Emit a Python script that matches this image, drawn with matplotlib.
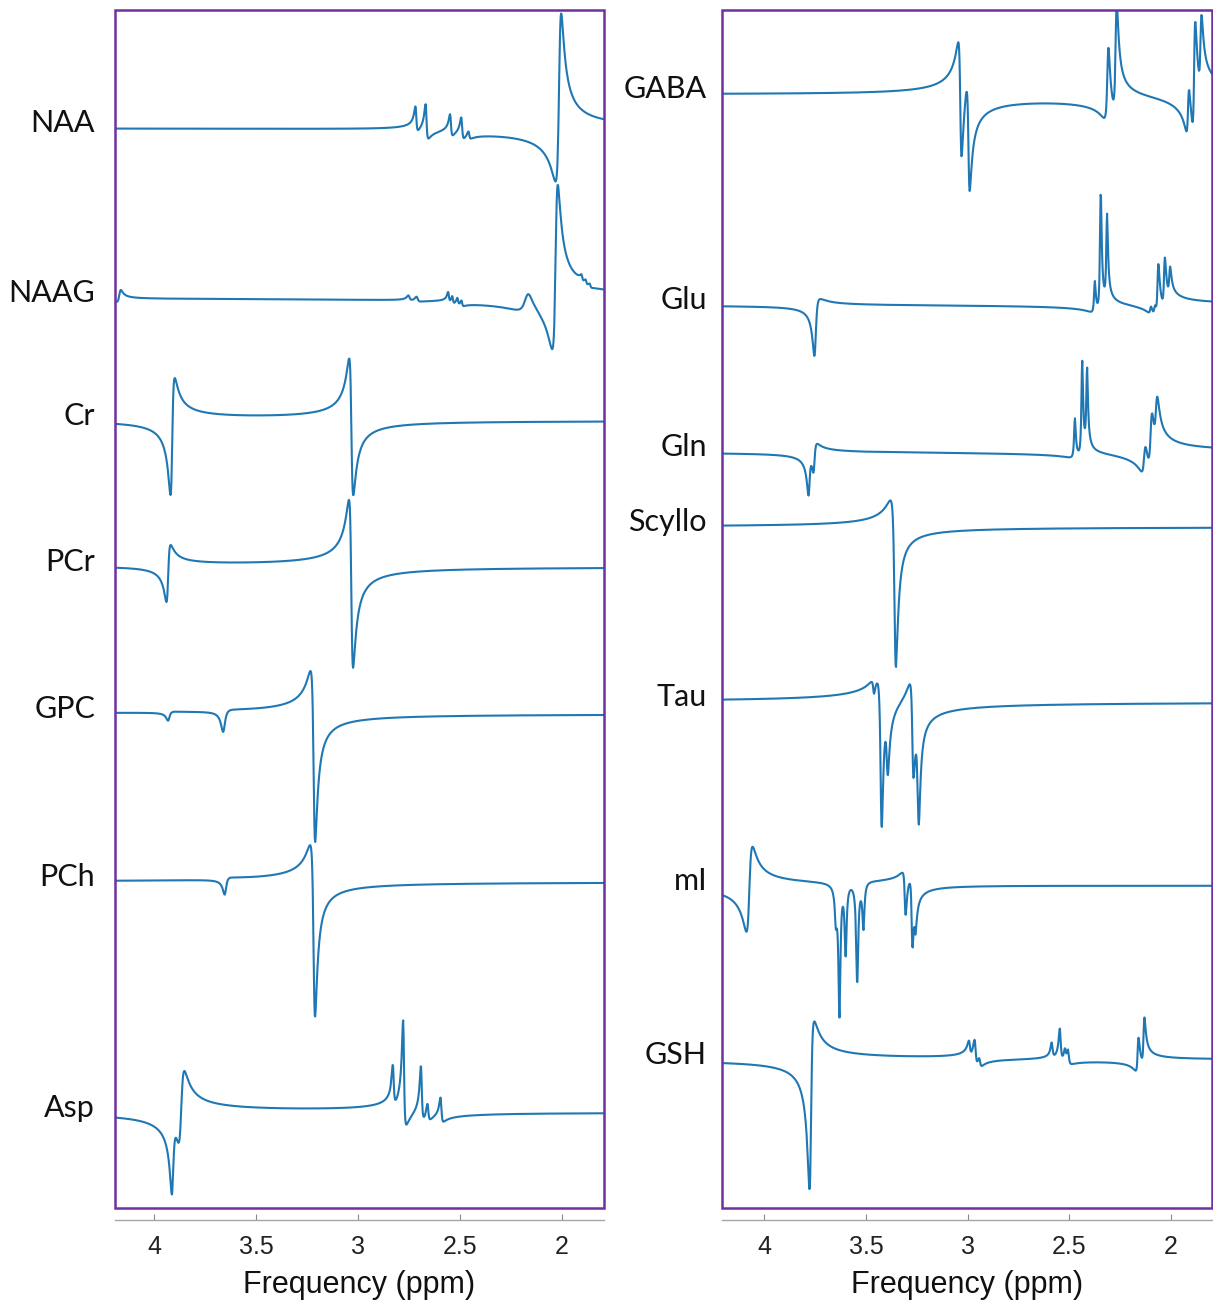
import numpy as np
import matplotlib.pyplot as plt
import matplotlib.transforms as mtransforms
from matplotlib.patches import Rectangle

# peak lists: (centre ppm, amplitude, phase in degrees, half width ppm)
NAA = [(2.011, 168, 68, 0.013),
       (2.715, 25, -55, 0.006), (2.665, 35, -55, 0.006),
       (2.545, 22, -55, 0.006), (2.490, 22, -55, 0.006), (2.455, 8, -55, 0.006)]
NAAG = [(2.028, 165, 70, 0.013), (2.170, 20, 35, 0.025),
        (2.750, 5, -40, 0.008), (2.710, 5, -40, 0.008),
        (2.555, 10, -50, 0.005), (2.535, 8, -50, 0.005), (2.510, 7, -50, 0.005), (2.490, 6, -50, 0.005),
        (1.900, 6, -60, 0.006), (1.880, 5, -60, 0.006), (1.860, 4, -60, 0.006),
        (4.170, 12, 60, 0.010)]
CR = [(3.913, 117, 107, 0.010), (3.032, 137, -96, 0.010)]
PCR = [(3.933, 57, 107, 0.010), (3.032, 168, -102, 0.010)]
GPC = [(3.216, 171, -120, 0.010), (3.660, 22, 160, 0.012), (3.930, 9, 150, 0.010)]
PCH = [(3.216, 172, -125, 0.010), (3.652, 17, 150, 0.010)]
ASP = [(3.910, 70, 135, 0.010), (3.868, 75, 95, 0.015),
       (2.827, 40, -40, 0.006), (2.776, 106, -45, 0.006), (2.689, 55, -40, 0.006),
       (2.657, 18, -40, 0.006), (2.592, 25, -50, 0.006)]

GABA = [(3.035, 120, -110, 0.008), (2.995, 110, -110, 0.008),
        (2.310, 75, 40, 0.008), (2.270, 105, 50, 0.008),
        (1.915, 50, 70, 0.007), (1.885, 110, 70, 0.007), (1.853, 70, 60, 0.007)]
GLU = [(3.750, 57, 140, 0.010),
       (2.375, 32, 20, 0.005), (2.346, 119, 20, 0.005), (2.315, 86, 20, 0.005),
       (2.100, 8, 45, 0.006), (2.080, 10, 45, 0.006), (2.064, 50, 45, 0.006),
       (2.032, 48, 45, 0.006), (2.006, 28, 45, 0.006)]
GLN = [(3.780, 40, 140, 0.008), (3.755, 30, 130, 0.008),
       (2.473, 40, 15, 0.005), (2.437, 95, 15, 0.005), (2.413, 80, 15, 0.005),
       (2.130, 30, 60, 0.010), (2.098, 55, 60, 0.010), (2.072, 45, 60, 0.010)]
SCYLLO = [(3.357, 167, -133, 0.010)]
TAU = [(3.462, 15, -140, 0.006), (3.425, 150, -145, 0.008), (3.395, 60, -140, 0.008),
       (3.270, 95, -125, 0.008), (3.242, 100, -150, 0.008)]
MI = [(4.074, 85, 95, 0.015),
      (3.648, 30, 180, 0.006), (3.630, 130, 175, 0.006), (3.600, 70, 180, 0.006),
      (3.543, 100, 180, 0.006), (3.512, 45, 175, 0.006),
      (3.307, 45, -140, 0.006), (3.273, 70, -140, 0.006), (3.258, 30, -140, 0.006)]
GSH = [(3.772, 168, 123, 0.010),
       (2.990, 15, -60, 0.007), (2.962, 25, -60, 0.007), (2.940, 10, -60, 0.007),
       (2.585, 15, -30, 0.006), (2.545, 32, -30, 0.006), (2.520, 12, -30, 0.006), (2.505, 15, -30, 0.006),
       (2.162, 35, 50, 0.006), (2.133, 45, 50, 0.006)]

LEFT_NAMES = ['NAA', 'NAAG', 'Cr', 'PCr', 'GPC', 'PCh', 'Asp']
LEFT_PEAKS = [NAA, NAAG, CR, PCR, GPC, PCH, ASP]
LEFT_BASE = [1092, 922, 799, 653, 506, 338, 107]

RIGHT_NAMES = ['GABA', 'Glu', 'Gln', 'Scyllo', 'Tau', 'mI', 'GSH']
RIGHT_PEAKS = [GABA, GLU, GLN, SCYLLO, TAU, MI, GSH]
RIGHT_BASE = [1126, 915, 768, 693, 518, 334, 160]

TICKS = [4, 3.5, 3, 2.5, 2]
TICK_LABELS = ['4', '3.5', '3', '2.5', '2']


def spectrum(ppm, peaks):
    y = np.zeros_like(ppm)
    for pos, amp, phase, w in peaks:
        d = pos - ppm
        absorb = w**2 / (w**2 + d**2)
        disp = w * d / (w**2 + d**2)
        ph = np.deg2rad(phase)
        y += amp * (np.cos(ph) * absorb + np.sin(ph) * disp)
    return y


W, H = 1213, 1301
fig = plt.figure(figsize=(W / 100, H / 100), dpi=100)

panels = [
    (115, 604, (4.193, 1.792), 95, LEFT_NAMES, LEFT_PEAKS, LEFT_BASE),
    (722, 1212, (4.208, 1.798), 707, RIGHT_NAMES, RIGHT_PEAKS, RIGHT_BASE),
]

for x0, x1, xlim, label_x, names, peaks_list, bases in panels:
    ax = fig.add_axes([x0 / W, (H - 1220) / H, (x1 - x0) / W, 1210 / H])
    ax.set_xlim(*xlim)
    ax.set_ylim(0, 1210)
    ppm = np.arange(xlim[1], xlim[0], 0.002)
    trans = mtransforms.blended_transform_factory(ax.transAxes, ax.transData)

    for name, peaks, base in zip(names, peaks_list, bases):
        ax.plot(ppm, base + spectrum(ppm, peaks), color='#1f77b4', lw=1.5)
        ax.text((label_x - x0) / (x1 - x0), base + 5, name, transform=trans,
                ha='right', va='center', fontsize=22, family='Lato', color='#111111')

    # purple frame round the traces
    ax.add_patch(Rectangle((0, 12), 1, 1198, transform=trans, fill=False,
                           edgecolor='#7030a0', lw=1.8, clip_on=False, zorder=5))

    for side in ['top', 'left', 'right']:
        ax.spines[side].set_visible(False)
    ax.spines['bottom'].set_color('#a6a6a6')
    ax.spines['bottom'].set_linewidth(1.0)
    ax.set_yticks([])
    ax.set_xticks(TICKS)
    ax.set_xticklabels(TICK_LABELS, family='Liberation Sans', fontsize=18, color='#222222')
    ax.tick_params(axis='x', direction='in', length=4, color='#888888', pad=11)
    ax.set_xlabel('Frequency (ppm)', family='Liberation Sans', fontsize=22, color='#111111', labelpad=8)

plt.savefig('out.png', dpi=100)
